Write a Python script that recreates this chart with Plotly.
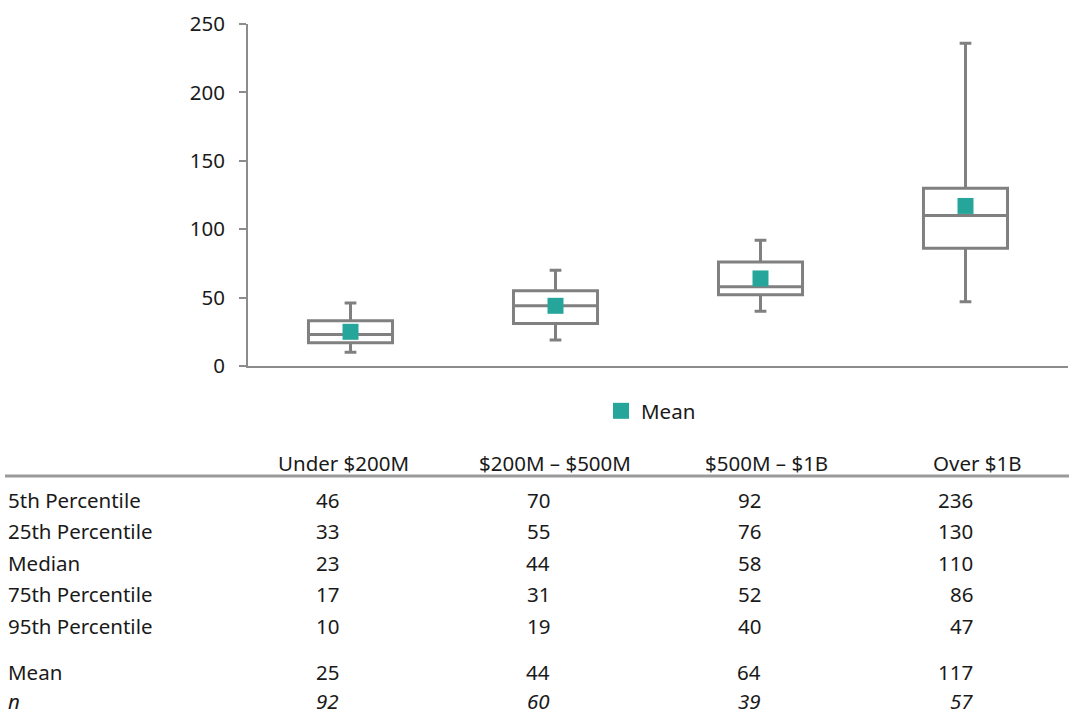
import plotly.graph_objects as go

# Revenue-band categories and the distribution statistics per band
categories = ["Under $200M", "$200M – $500M", "$500M – $1B", "Over $1B"]
p5 = [46, 70, 92, 236]
p25 = [33, 55, 76, 130]
median = [23, 44, 58, 110]
p75 = [17, 31, 52, 86]
p95 = [10, 19, 40, 47]
mean = [25, 44, 64, 117]
n_obs = [92, 60, 39, 57]

row_labels = ["5th Percentile", "25th Percentile", "Median",
              "75th Percentile", "95th Percentile", "Mean", "<i>n</i>"]

W, H = 1069, 715
M_L, M_R, M_T, M_B = 248, 1, 24, 349
PLOT_W = W - M_L - M_R
PLOT_H = H - M_T - M_B

FONT = "Noto Sans"
FS = 20.5
TEXT = "#1a1a1a"
GRAY = "#808080"
TEAL = "#26A69A"


def px_x(p):
    return (p - M_L) / PLOT_W


def px_y(p):
    return (H - M_B - p) / PLOT_H


def safe(s):
    # escape dollar signs so they are not read as LaTeX delimiters
    return s.replace("$", "&#36;")


fig = go.Figure()

fig.add_trace(go.Box(
    x=categories,
    q1=p75, median=median, q3=p25,
    lowerfence=p95, upperfence=p5,
    fillcolor="white",
    line=dict(color=GRAY, width=3),
    whiskerwidth=0.14,
    showlegend=False,
    hoverinfo="skip",
))

fig.add_trace(go.Scatter(
    x=categories, y=mean,
    mode="markers",
    name="Mean",
    marker=dict(symbol="square", size=16, color=TEAL),
))

# Summary table below the chart
header_x = [343, 555, 766, 977]
value_x = [340, 551, 762, 974]
row_y = [500, 531, 563, 594, 626, 672, 701]
rows = [p5, p25, median, p75, p95, mean, n_obs]

ann = []
for cx, cat in zip(header_x, categories):
    ann.append(dict(x=px_x(cx), y=px_y(463), text=safe(cat), xanchor="center",
                    yanchor="middle"))
for ry, label, vals in zip(row_y, row_labels, rows):
    ann.append(dict(x=px_x(7), y=px_y(ry), text=label, xanchor="left",
                    yanchor="middle"))
    for vx, v in zip(value_x, vals):
        t = f"<i>{v}</i>" if vals is n_obs else str(v)
        ann.append(dict(x=px_x(vx), y=px_y(ry), text=t, xanchor="right",
                        yanchor="middle"))
for a in ann:
    a.update(xref="paper", yref="paper", showarrow=False, borderpad=0)

fig.update_layout(
    width=W, height=H,
    margin=dict(l=M_L, r=M_R, t=M_T, b=M_B, pad=0),
    paper_bgcolor="white", plot_bgcolor="white",
    font=dict(family=FONT, size=FS, color=TEXT),
    boxgap=0.59, boxgroupgap=0,
    showlegend=True,
    legend=dict(orientation="h", x=px_x(601), y=px_y(411),
                xanchor="left", yanchor="middle",
                font=dict(size=FS, color=TEXT), bgcolor="rgba(0,0,0,0)"),
    annotations=ann,
    shapes=[dict(type="line", xref="paper", yref="paper",
                 x0=px_x(5), x1=px_x(W), y0=px_y(476), y1=px_y(476),
                 line=dict(color="#9a9a9a", width=3))],
    xaxis=dict(showticklabels=False, ticks="", showline=True,
               linecolor="#8c8c8c", linewidth=2, showgrid=False,
               zeroline=False, fixedrange=True),
    yaxis=dict(range=[0, 250], tickvals=[0, 50, 100, 150, 200, 250],
               ticks="outside", ticklen=7, tickwidth=2, tickcolor="#8c8c8c",
               showline=True, linecolor="#8c8c8c", linewidth=2,
               showgrid=False, zeroline=False, ticklabelstandoff=10,
               tickfont=dict(size=FS, color=TEXT)),
)

fig.write_html("out.html")
